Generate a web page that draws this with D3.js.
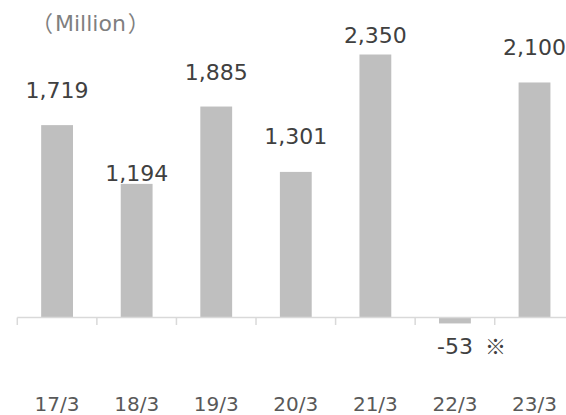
<!DOCTYPE html>
<html>
<head>
<meta charset="utf-8">
<script src="https://cdn.jsdelivr.net/npm/d3@7"></script>
<style>
  html, body { margin: 0; padding: 0; background: #fff; }
  svg { display: block; font-family: "DejaVu Sans", Verdana, sans-serif; }
</style>
</head>
<body>
<svg id="chart" width="566" height="415"></svg>
<script>
const categories = ["17/3", "18/3", "19/3", "20/3", "21/3", "22/3", "23/3"];
const values = [1719, 1194, 1885, 1301, 2350, -53, 2100];
const valueLabels = ["1,719", "1,194", "1,885", "1,301", "2,350", "-53", "2,100"];
const labelNotes = ["", "", "", "", "", "※", ""];
const unitParts = ["（", "Million", "）"];

// layout: pixel gap between bar end and its value label
const labelGap = [27, 3, 27, 28, 12, 15, 27];

const svg = d3.select("#chart");

const x = d3.scaleBand()
  .domain(categories)
  .range([17.3, 574.3])
  .paddingInner(0.6)
  .paddingOuter(0.3);

const y = d3.scaleLinear()
  .domain([0, 2350])
  .range([317.5, 54.5]);

// bars
svg.append("g").selectAll("rect")
  .data(values)
  .join("rect")
  .attr("x", (d, i) => x(categories[i]))
  .attr("width", x.bandwidth())
  .attr("y", d => Math.min(y(d), y(0)))
  .attr("height", d => Math.abs(y(d) - y(0)))
  .attr("fill", "#bfbfbf");

// axis line and ticks between categories
const axisG = svg.append("g");
const step = x.step();
axisG.append("line")
  .attr("x1", 17.3).attr("x2", 566)
  .attr("y1", y(0)).attr("y2", y(0))
  .attr("stroke", "#d9d9d9").attr("stroke-width", 1.5);
axisG.selectAll("line.tick")
  .data(categories)
  .join("line")
  .attr("class", "tick")
  .attr("x1", c => x(c) + x.bandwidth() / 2 - step / 2)
  .attr("x2", c => x(c) + x.bandwidth() / 2 - step / 2)
  .attr("y1", y(0)).attr("y2", y(0) + 7.5)
  .attr("stroke", "#d9d9d9").attr("stroke-width", 1.5);

// category labels
svg.append("g").selectAll("text")
  .data(categories)
  .join("text")
  .attr("x", c => x(c) + x.bandwidth() / 2)
  .attr("y", 411)
  .attr("text-anchor", "middle")
  .attr("font-size", 20)
  .attr("fill", "#595959")
  .text(c => c);

// value labels
const vl = svg.append("g");
values.forEach((v, i) => {
  const cx = x(categories[i]) + x.bandwidth() / 2;
  const yy = v >= 0 ? y(v) - labelGap[i] : y(v) + labelGap[i] + 16;
  vl.append("text")
    .attr("x", cx)
    .attr("y", yy)
    .attr("text-anchor", "middle")
    .attr("font-size", 22)
    .attr("fill", "#404040")
    .text(valueLabels[i]);
  if (labelNotes[i]) {
    vl.append("text")
      .attr("x", cx + 30)
      .attr("y", yy)
      .attr("text-anchor", "start")
      .attr("font-size", 21)
      .attr("font-family", "'Noto Sans CJK JP', sans-serif")
      .attr("fill", "#404040")
      .text(labelNotes[i]);
  }
});

// unit label
const unit = svg.append("text")
  .attr("x", 31)
  .attr("y", 31)
  .attr("font-size", 22)
  .attr("fill", "#7f7f7f");
unit.append("tspan").attr("font-family", "'Noto Sans CJK JP', sans-serif").text(unitParts[0]);
unit.append("tspan").attr("dx", 2).text(unitParts[1]);
unit.append("tspan").attr("dx", 2).attr("font-family", "'Noto Sans CJK JP', sans-serif").text(unitParts[2]);
</script>
</body>
</html>
